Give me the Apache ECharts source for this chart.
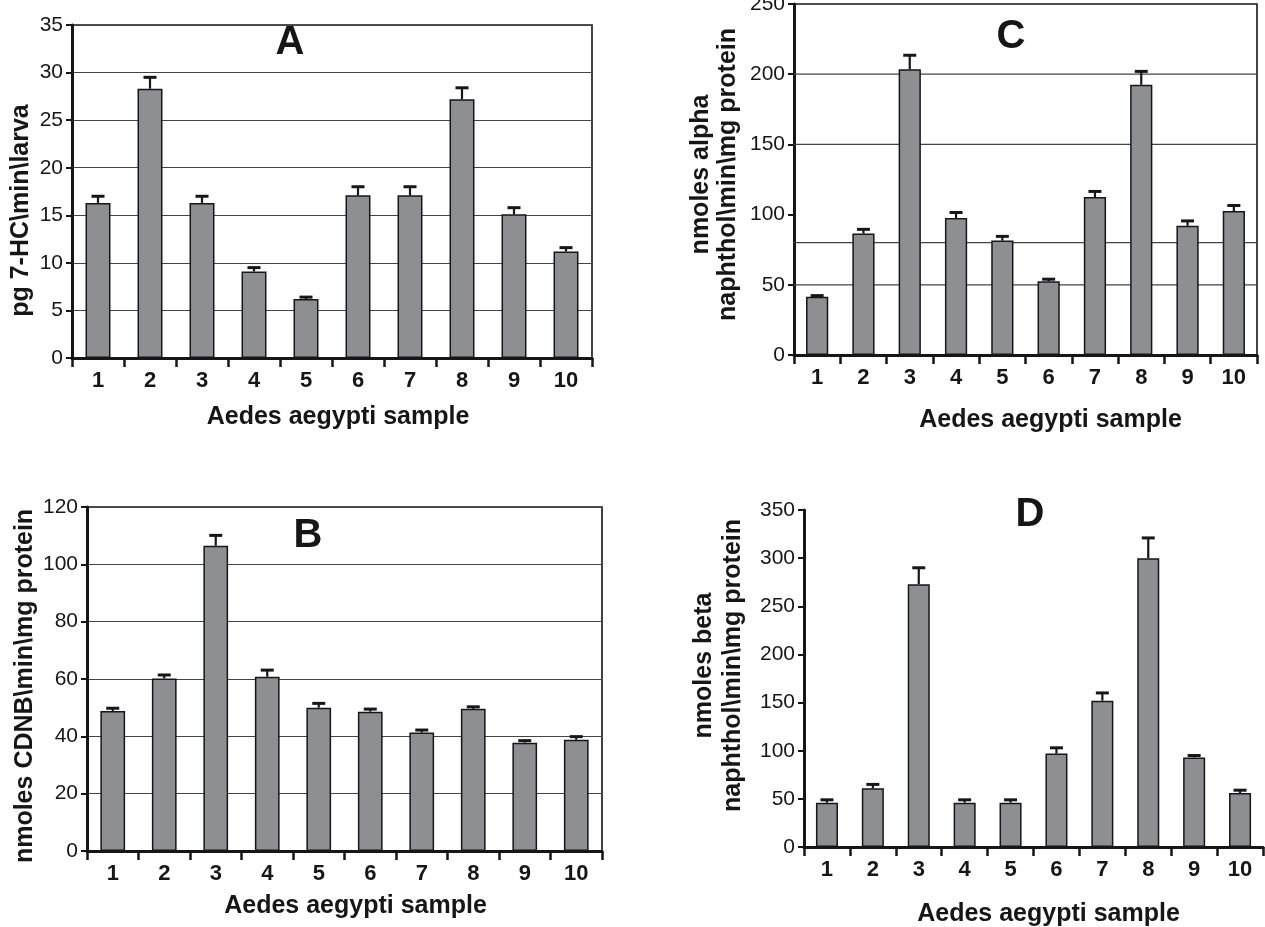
<!DOCTYPE html>
<html>
<head>
<meta charset="utf-8">
<script src="https://cdn.jsdelivr.net/npm/echarts@6/dist/echarts.min.js"></script>
<style>html,body{margin:0;padding:0;background:#fff}#c{width:1265px;height:927px}</style>
</head>
<body>
<div id="c"></div>
<script>
// ---------- data ----------
const categories = ['1','2','3','4','5','6','7','8','9','10'];
const xTitle = 'Aedes aegypti sample';

const aValues = [16.3, 28.3, 16.3, 9.1, 6.2, 17.1, 17.1, 27.2, 15.1, 11.2];
const aErrors = [0.7, 1.2, 0.7, 0.4, 0.2, 0.9, 0.9, 1.2, 0.7, 0.4];
const aTicks  = [0, 5, 10, 15, 20, 25, 30, 35];
const aYTitle = 'pg 7-HC\\min\\larva';

const bValues = [48.8, 60.2, 106.5, 60.8, 50.0, 48.6, 41.3, 49.6, 37.8, 38.8];
const bErrors = [1.0, 1.2, 3.6, 2.3, 1.5, 0.9, 0.9, 0.7, 0.7, 1.1];
const bTicks  = [0, 20, 40, 60, 80, 100, 120];
const bYTitle = 'nmoles CDNB\\min\\mg protein';

const cValues = [41.5, 86.5, 203.5, 97.5, 81.5, 52.5, 112.5, 192.5, 92.0, 102.5];
const cErrors = [0.8, 3.0, 10.0, 4.0, 3.0, 1.5, 4.0, 9.5, 3.5, 4.0];
const cTicks  = [0, 50, 100, 150, 200, 250];
const cGridLines = [50, 80, 150, 200];
const cYTitle = 'nmoles alpha\nnaphthol\\min\\mg protein';

const dValues = [46, 61, 273, 46, 46, 97, 152, 300, 93, 56];
const dErrors = [3, 4, 17, 3, 3, 6, 8, 21, 2, 3];
const dTicks  = [0, 50, 100, 150, 200, 250, 300, 350];
const dYTitle = 'nmoles beta\nnaphthol\\min\\mg protein';

const panelLetters = ['A', 'B', 'C', 'D'];

// ---------- layout / style ----------
const FONT = "'Liberation Sans', Arial, Helvetica, sans-serif";
const INK = '#161616';
const BAR = '#8e8f93';

const panels = [
  {values:aValues, errors:aErrors, ticks:aTicks, yName:aYTitle, grid:{left:72, top:25, width:520, height:333},
   border:true, split:true, yGap:37, yPad:[0,38,0,0], xGap:47, xPad:[0,0,0,12], letter:{x:290, y:43}},
  {values:bValues, errors:bErrors, ticks:bTicks, yName:bYTitle, grid:{left:87, top:507, width:515, height:344},
   border:true, split:true, yGap:43, yPad:[0,14,0,0], xGap:43, xPad:[0,0,0,22], letter:{x:308, y:536}},
  {values:cValues, errors:cErrors, ticks:cTicks, yName:cYTitle, grid:{left:794, top:4, width:463, height:351},
   border:true, split:false, customGrid:cGridLines, yGap:52, yPad:[0,0,0,10], lh:27, xGap:53, xPad:[0,0,0,50], letter:{x:1011, y:37}},
  {values:dValues, errors:dErrors, ticks:dTicks, yName:dYTitle, grid:{left:804, top:510, width:459, height:337},
   border:false, split:false, yGap:56, yPad:[0,0,0,26], lh:29, xGap:55, xPad:[0,0,0,30], letter:{x:1030, y:515}}
];
const letterOrder = ['A','B','C','D'];

const grids = [], xAxes = [], yAxes = [], series = [], graphics = [];

function errRender(params, api) {
  const x = api.value(0), v = api.value(1), hi = api.value(2);
  const p0 = api.coord([x, v]);
  const p1 = api.coord([x, hi]);
  const cap = 13;
  return {type:'group', children:[
    {type:'line', shape:{x1:p0[0], y1:p0[1], x2:p1[0], y2:p1[1]}, style:{stroke:INK, lineWidth:2.2}},
    {type:'line', shape:{x1:p1[0]-cap/2, y1:p1[1], x2:p1[0]+cap/2, y2:p1[1]}, style:{stroke:INK, lineWidth:3}}
  ]};
}
function gridLineRender(params, api) {
  const y = api.coord([0, api.value(1)])[1];
  const cs = params.coordSys;
  return {type:'line', shape:{x1:cs.x, y1:y, x2:cs.x + cs.width, y2:y}, style:{stroke:'#444', lineWidth:1.2}};
}

panels.forEach((p, i) => {
  grids.push(Object.assign({show:p.border, borderColor:INK, borderWidth:1.6, backgroundColor:'transparent',
    containLabel:false, outerBoundsMode:'none'}, p.grid));
  xAxes.push({
    type:'category', gridIndex:i, data:categories, boundaryGap:true,
    axisLine:{show:true, lineStyle:{color:INK, width:3}},
    axisTick:{show:true, alignWithLabel:false, length:9, inside:false, lineStyle:{color:INK, width:2.5}},
    axisLabel:{color:INK, fontFamily:FONT, fontWeight:'bold', fontSize:22, margin:12, interval:0},
    splitLine:{show:false},
    name:xTitle, nameLocation:'middle', nameGap:p.xGap,
    nameTextStyle:{color:INK, fontFamily:FONT, fontWeight:'bold', fontSize:25, padding:p.xPad}
  });
  const t = p.ticks;
  yAxes.push({
    type:'value', gridIndex:i, min:t[0], max:t[t.length-1], interval:t[1]-t[0],
    axisLine:{show:true, lineStyle:{color:INK, width:3}},
    axisTick:{show:true, length:6, lineStyle:{color:INK, width:2}},
    axisLabel:{color:INK, fontFamily:FONT, fontSize:21, margin:9},
    splitLine:{show:p.split, lineStyle:{color:'#444', width:1.2}},
    name:p.yName, nameLocation:'middle', nameRotate:90, nameGap:p.yGap,
    nameTextStyle:{color:INK, fontFamily:FONT, fontWeight:'bold', fontSize:25, lineHeight:p.lh || 28, padding:p.yPad}
  });
  if (p.customGrid) {
    series.push({type:'custom', xAxisIndex:i, yAxisIndex:i, z:1, silent:true,
      data:p.customGrid.map(v => [0, v]), renderItem:gridLineRender});
  }
  series.push({type:'bar', xAxisIndex:i, yAxisIndex:i, z:2, data:p.values, barWidth:'48%',
    itemStyle:{color:BAR, borderColor:INK, borderWidth:1.5}, silent:true, animation:false});
  series.push({type:'custom', xAxisIndex:i, yAxisIndex:i, z:3, silent:true,
    data:p.values.map((v, k) => [k, v, v + p.errors[k]]), renderItem:errRender});
  graphics.push({type:'text', x:p.letter.x, y:p.letter.y, z:10,
    style:{text:letterOrder[i], font:"bold 40px " + FONT, fill:INK, align:'center', verticalAlign:'middle'}});
});

const chart = echarts.init(document.getElementById('c'), null, {renderer:'canvas'});
chart.setOption({
  animation:false,
  backgroundColor:'#ffffff',
  grid:grids, xAxis:xAxes, yAxis:yAxes, series:series, graphic:graphics
});
</script>
</body>
</html>
